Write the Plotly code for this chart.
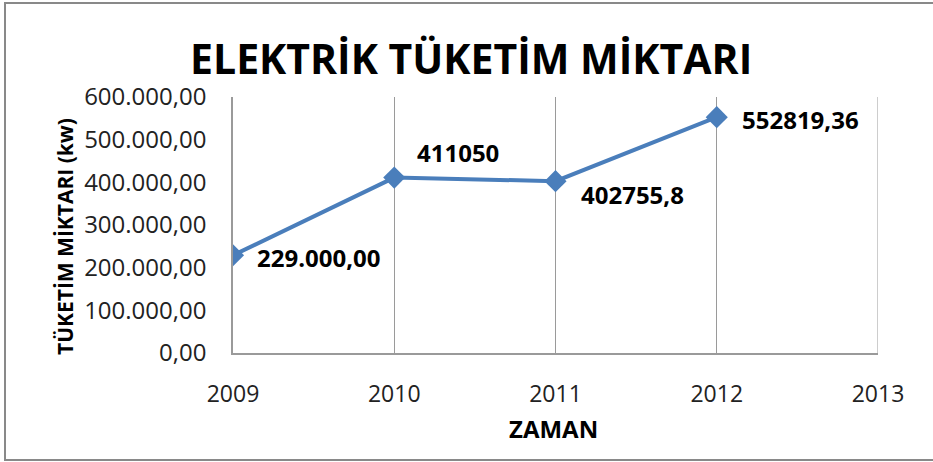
import plotly.graph_objects as go

years = [2009, 2010, 2011, 2012]
consumption = [229000.00, 411050, 402755.8, 552819.36]
point_labels = ["229.000,00", "411050", "402755,8", "552819,36"]
y_tick_values = [0, 100000, 200000, 300000, 400000, 500000, 600000]
y_tick_labels = ["0,00", "100.000,00", "200.000,00", "300.000,00", "400.000,00", "500.000,00", "600.000,00"]
x_tick_values = [2009, 2010, 2011, 2012, 2013]
title_text = "ELEKTRİK TÜKETİM MİKTARI"
x_title = "ZAMAN"
y_title = "TÜKETİM MİKTARI (kw)"

W, H = 933, 462
L, R, T, B = 233, 878, 97, 353
FONT = "Open Sans"
COLOR = "#4A7EBB"

fig = go.Figure()
fig.add_trace(go.Scatter(
    x=years, y=consumption, mode="lines+markers",
    line=dict(color=COLOR, width=4),
    marker=dict(symbol="diamond", size=17, color=COLOR),
    hoverinfo="skip", showlegend=False,
))

label_offsets = [(22, -2), (21, 25), (23, -13), (23, -2)]
for x, y, t, (dx, dy) in zip(years, consumption, point_labels, label_offsets):
    fig.add_annotation(x=x, y=y, text=t, showarrow=False, xanchor="left", yanchor="middle",
                       xshift=dx, yshift=dy,
                       font=dict(family=FONT, size=24, color="#000000", weight="bold"))

pw, ph = R - L, B - T
def px(xp):
    return (xp - L) / pw
def py(yp):
    return (B - yp) / ph

# outer chart border
fig.add_shape(type="rect", xref="paper", yref="paper",
              x0=px(5), x1=px(945), y0=py(460), y1=py(3),
              line=dict(color="#898989", width=2), fillcolor="rgba(0,0,0,0)", layer="below")

fig.add_annotation(xref="paper", yref="paper", x=px(471), y=py(58), text=title_text, showarrow=False,
                   xanchor="center", yanchor="middle",
                   font=dict(family=FONT, size=41, color="#000000", weight="bold"))
fig.add_annotation(xref="paper", yref="paper", x=px(553), y=py(428), text=x_title, showarrow=False,
                   xanchor="center", yanchor="middle",
                   font=dict(family=FONT, size=24, color="#000000", weight="bold"))
fig.add_annotation(xref="paper", yref="paper", x=px(65), y=py(237), text=y_title, showarrow=False,
                   textangle=-90, xanchor="center", yanchor="middle",
                   font=dict(family=FONT, size=21, color="#000000", weight="bold"))

fig.update_layout(
    width=W, height=H,
    margin=dict(l=L, r=W - R, t=T, b=H - B, pad=0),
    paper_bgcolor="white", plot_bgcolor="white",
    font=dict(family=FONT, color="#222222"),
)
fig.update_xaxes(
    range=[2009, 2013], tickvals=x_tick_values, ticktext=[str(v) for v in x_tick_values],
    showgrid=True, gridcolor="#9a9a9a", gridwidth=1,
    showline=True, linecolor="#9a9a9a", linewidth=1.5, mirror=False,
    ticks="", ticklabelstandoff=20, tickfont=dict(family=FONT, size=23, color="#222222"),
    zeroline=False, fixedrange=True,
)
fig.update_yaxes(
    range=[0, 600000], tickvals=y_tick_values, ticktext=y_tick_labels,
    showgrid=False, showline=True, linecolor="#9a9a9a", linewidth=1.5,
    ticks="", ticklabelstandoff=20, tickfont=dict(family=FONT, size=24, color="#222222"),
    zeroline=False, fixedrange=True,
)
fig.add_shape(type="line", xref="x", yref="paper", x0=2013, x1=2013, y0=0, y1=1,
              line=dict(color="#9a9a9a", width=1))

fig.write_html("out.html", config={"displayModeBar": False},
               post_script="document.body.style.margin='0';document.body.style.padding='0';")
